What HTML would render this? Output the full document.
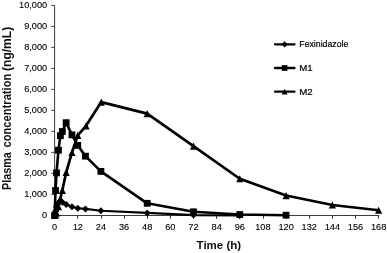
<!DOCTYPE html>
<html><head><meta charset="utf-8"><title>Plasma concentration</title>
<style>html,body{margin:0;padding:0;background:#fff}body{width:387px;height:253px;overflow:hidden}svg{will-change:transform;transform:translateZ(0)}</style></head>
<body>
<svg width="387" height="253" viewBox="0 0 387 253" style="display:block" font-family='"Liberation Sans", Arial, sans-serif'>
<rect width="387" height="253" fill="#fff"/>
<g stroke="#3c3c3c" stroke-width="1" fill="none">
<path d="M54.6 5.0V215.5H379.172"/>
<path d="M51.2 215.40H54.6" stroke="#444"/>
<path d="M51.2 194.40H54.6" stroke="#444"/>
<path d="M51.2 173.40H54.6" stroke="#444"/>
<path d="M51.2 152.40H54.6" stroke="#444"/>
<path d="M51.2 131.40H54.6" stroke="#444"/>
<path d="M51.2 110.40H54.6" stroke="#444"/>
<path d="M51.2 89.40H54.6" stroke="#444"/>
<path d="M51.2 68.40H54.6" stroke="#444"/>
<path d="M51.2 47.40H54.6" stroke="#444"/>
<path d="M51.2 26.40H54.6" stroke="#444"/>
<path d="M51.2 5.40H54.6" stroke="#444"/>
<path d="M54.50 215.5V218.8"/>
<path d="M77.50 215.5V218.8"/>
<path d="M101.50 215.5V218.8"/>
<path d="M124.50 215.5V218.8"/>
<path d="M147.50 215.5V218.8"/>
<path d="M170.50 215.5V218.8"/>
<path d="M193.50 215.5V218.8"/>
<path d="M216.50 215.5V218.8"/>
<path d="M239.50 215.5V218.8"/>
<path d="M263.50 215.5V218.8"/>
<path d="M286.50 215.5V218.8"/>
<path d="M309.50 215.5V218.8"/>
<path d="M332.50 215.5V218.8"/>
<path d="M355.50 215.5V218.8"/>
<path d="M378.50 215.5V218.8"/>
</g>
<g font-size="9.9" fill="#000" stroke="#000" stroke-width="0.12">
<text x="42.08" y="218.30" textLength="5.12" lengthAdjust="spacingAndGlyphs">0</text>
<text x="24.18" y="197.30" textLength="23.02" lengthAdjust="spacingAndGlyphs">1,000</text>
<text x="24.18" y="176.30" textLength="23.02" lengthAdjust="spacingAndGlyphs">2,000</text>
<text x="24.18" y="155.30" textLength="23.02" lengthAdjust="spacingAndGlyphs">3,000</text>
<text x="24.18" y="134.30" textLength="23.02" lengthAdjust="spacingAndGlyphs">4,000</text>
<text x="24.18" y="113.30" textLength="23.02" lengthAdjust="spacingAndGlyphs">5,000</text>
<text x="24.18" y="92.30" textLength="23.02" lengthAdjust="spacingAndGlyphs">6,000</text>
<text x="24.18" y="71.30" textLength="23.02" lengthAdjust="spacingAndGlyphs">7,000</text>
<text x="24.18" y="50.30" textLength="23.02" lengthAdjust="spacingAndGlyphs">8,000</text>
<text x="24.18" y="29.30" textLength="23.02" lengthAdjust="spacingAndGlyphs">9,000</text>
<text x="19.07" y="8.30" textLength="28.13" lengthAdjust="spacingAndGlyphs">10,000</text>
<text x="52.04" y="230" textLength="5.12" lengthAdjust="spacingAndGlyphs">0</text>
<text x="72.63" y="230" textLength="10.23" lengthAdjust="spacingAndGlyphs">12</text>
<text x="95.78" y="230" textLength="10.23" lengthAdjust="spacingAndGlyphs">24</text>
<text x="118.93" y="230" textLength="10.23" lengthAdjust="spacingAndGlyphs">36</text>
<text x="142.08" y="230" textLength="10.23" lengthAdjust="spacingAndGlyphs">48</text>
<text x="165.22" y="230" textLength="10.23" lengthAdjust="spacingAndGlyphs">60</text>
<text x="188.37" y="230" textLength="10.23" lengthAdjust="spacingAndGlyphs">72</text>
<text x="211.52" y="230" textLength="10.23" lengthAdjust="spacingAndGlyphs">84</text>
<text x="234.67" y="230" textLength="10.23" lengthAdjust="spacingAndGlyphs">96</text>
<text x="255.26" y="230" textLength="15.35" lengthAdjust="spacingAndGlyphs">108</text>
<text x="278.41" y="230" textLength="15.35" lengthAdjust="spacingAndGlyphs">120</text>
<text x="301.55" y="230" textLength="15.35" lengthAdjust="spacingAndGlyphs">132</text>
<text x="324.70" y="230" textLength="15.35" lengthAdjust="spacingAndGlyphs">144</text>
<text x="347.85" y="230" textLength="15.35" lengthAdjust="spacingAndGlyphs">156</text>
<text x="371.00" y="230" textLength="15.35" lengthAdjust="spacingAndGlyphs">168</text>
</g>
<text x="218.9" y="248.9" font-size="11" font-weight="bold" text-anchor="middle" textLength="44.6" lengthAdjust="spacingAndGlyphs" fill="#111">Time (h)</text>
<text transform="rotate(-90)" font-size="12.4" font-weight="bold" fill="#111"><tspan x="-190.0" y="10.7" textLength="37.8" lengthAdjust="spacingAndGlyphs">Plasma</tspan> <tspan x="-147.5" y="10.7" textLength="73.8" lengthAdjust="spacingAndGlyphs">concentration</tspan> <tspan x="-71.0" y="10.7" textLength="44.2" lengthAdjust="spacingAndGlyphs">(ng/mL)</tspan></text>
<g fill="#000" stroke="none">
<polyline points="54.60,215.50 55.56,211.30 56.53,207.10 58.46,202.90 60.39,200.80 62.32,202.27 66.17,204.58 71.96,206.68 77.75,208.25 85.46,208.88 100.90,210.71 147.19,212.88 193.49,215.08 239.78,215.40" fill="none" stroke="#000" stroke-width="2.15" stroke-linejoin="round" stroke-linecap="round"/>
<path d="M51.10 215.50L54.60 212.00L58.10 215.50L54.60 219.00Z"/>
<path d="M52.06 211.30L55.56 207.80L59.06 211.30L55.56 214.80Z"/>
<path d="M53.03 207.10L56.53 203.60L60.03 207.10L56.53 210.60Z"/>
<path d="M54.96 202.90L58.46 199.40L61.96 202.90L58.46 206.40Z"/>
<path d="M56.89 200.80L60.39 197.30L63.89 200.80L60.39 204.30Z"/>
<path d="M58.82 202.27L62.32 198.77L65.82 202.27L62.32 205.77Z"/>
<path d="M62.67 204.58L66.17 201.08L69.67 204.58L66.17 208.08Z"/>
<path d="M68.46 206.68L71.96 203.18L75.46 206.68L71.96 210.18Z"/>
<path d="M74.25 208.25L77.75 204.75L81.25 208.25L77.75 211.75Z"/>
<path d="M81.96 208.88L85.46 205.38L88.96 208.88L85.46 212.38Z"/>
<path d="M97.40 210.71L100.90 207.21L104.40 210.71L100.90 214.21Z"/>
<path d="M143.69 212.88L147.19 209.38L150.69 212.88L147.19 216.38Z"/>
<path d="M189.99 215.08L193.49 211.58L196.99 215.08L193.49 218.58Z"/>
<path d="M236.28 215.40L239.78 211.90L243.28 215.40L239.78 218.90Z"/>
<polyline points="54.60,215.50 55.56,190.51 56.53,172.87 58.46,150.19 60.39,135.70 62.32,131.50 66.17,122.68 71.96,134.86 77.75,145.36 85.46,156.18 100.90,171.40 147.19,203.32 193.49,211.82 239.78,214.56 286.08,215.19" fill="none" stroke="#000" stroke-width="2.6" stroke-linejoin="round" stroke-linecap="round"/>
<rect x="51.20" y="212.10" width="6.8" height="6.8"/>
<rect x="52.16" y="187.11" width="6.8" height="6.8"/>
<rect x="53.13" y="169.47" width="6.8" height="6.8"/>
<rect x="55.06" y="146.79" width="6.8" height="6.8"/>
<rect x="56.99" y="132.30" width="6.8" height="6.8"/>
<rect x="58.92" y="128.10" width="6.8" height="6.8"/>
<rect x="62.77" y="119.28" width="6.8" height="6.8"/>
<rect x="68.56" y="131.46" width="6.8" height="6.8"/>
<rect x="74.35" y="141.96" width="6.8" height="6.8"/>
<rect x="82.06" y="152.78" width="6.8" height="6.8"/>
<rect x="97.50" y="168.00" width="6.8" height="6.8"/>
<rect x="143.79" y="199.92" width="6.8" height="6.8"/>
<rect x="190.09" y="208.42" width="6.8" height="6.8"/>
<rect x="236.38" y="211.16" width="6.8" height="6.8"/>
<rect x="282.68" y="211.78" width="6.8" height="6.8"/>
<polyline points="54.60,215.50 55.56,214.87 56.53,212.98 58.46,206.68 60.39,198.70 62.32,190.30 66.17,172.45 71.96,152.50 77.75,135.28 86.04,125.83 101.28,102.10 147.19,113.65 193.49,146.20 239.78,178.75 286.08,195.55 332.38,205.00 378.67,210.25" fill="none" stroke="#000" stroke-width="2.7" stroke-linejoin="round" stroke-linecap="round"/>
<path d="M51.00 219.10L54.60 211.90L58.20 219.10Z"/>
<path d="M51.96 218.47L55.56 211.27L59.16 218.47Z"/>
<path d="M52.93 216.58L56.53 209.38L60.13 216.58Z"/>
<path d="M54.86 210.28L58.46 203.08L62.06 210.28Z"/>
<path d="M56.79 202.30L60.39 195.10L63.99 202.30Z"/>
<path d="M58.72 193.90L62.32 186.70L65.92 193.90Z"/>
<path d="M62.57 176.05L66.17 168.85L69.77 176.05Z"/>
<path d="M68.36 156.10L71.96 148.90L75.56 156.10Z"/>
<path d="M74.15 138.88L77.75 131.68L81.35 138.88Z"/>
<path d="M82.44 129.43L86.04 122.23L89.64 129.43Z"/>
<path d="M97.68 105.70L101.28 98.50L104.88 105.70Z"/>
<path d="M143.59 117.25L147.19 110.05L150.79 117.25Z"/>
<path d="M189.89 149.80L193.49 142.60L197.09 149.80Z"/>
<path d="M236.18 182.35L239.78 175.15L243.38 182.35Z"/>
<path d="M282.48 199.15L286.08 191.95L289.68 199.15Z"/>
<path d="M328.78 208.60L332.38 201.40L335.98 208.60Z"/>
<path d="M375.07 213.85L378.67 206.65L382.27 213.85Z"/>
<path d="M275 44.3H294.5" stroke="#000" stroke-width="2.3" stroke-linecap="round"/>
<path d="M281.45 44.30L284.60 41.15L287.75 44.30L284.60 47.45Z"/>
<text x="299.3" y="47.2" font-size="9.7" fill="#000" stroke="#000" stroke-width="0.2" textLength="49.0" lengthAdjust="spacingAndGlyphs">Fexinidazole</text>
<path d="M275 68.0H294.5" stroke="#000" stroke-width="2.3" stroke-linecap="round"/>
<rect x="281.75" y="65.15" width="5.7" height="5.7"/>
<text x="299.3" y="70.8" font-size="9.7" fill="#000" stroke="#000" stroke-width="0.2">M1</text>
<path d="M275 91.6H294.5" stroke="#000" stroke-width="2.3" stroke-linecap="round"/>
<path d="M281.65 94.55L284.60 88.65L287.55 94.55Z"/>
<text x="299.3" y="94.5" font-size="9.7" fill="#000" stroke="#000" stroke-width="0.2">M2</text>
</g>
</svg>
</body></html>
